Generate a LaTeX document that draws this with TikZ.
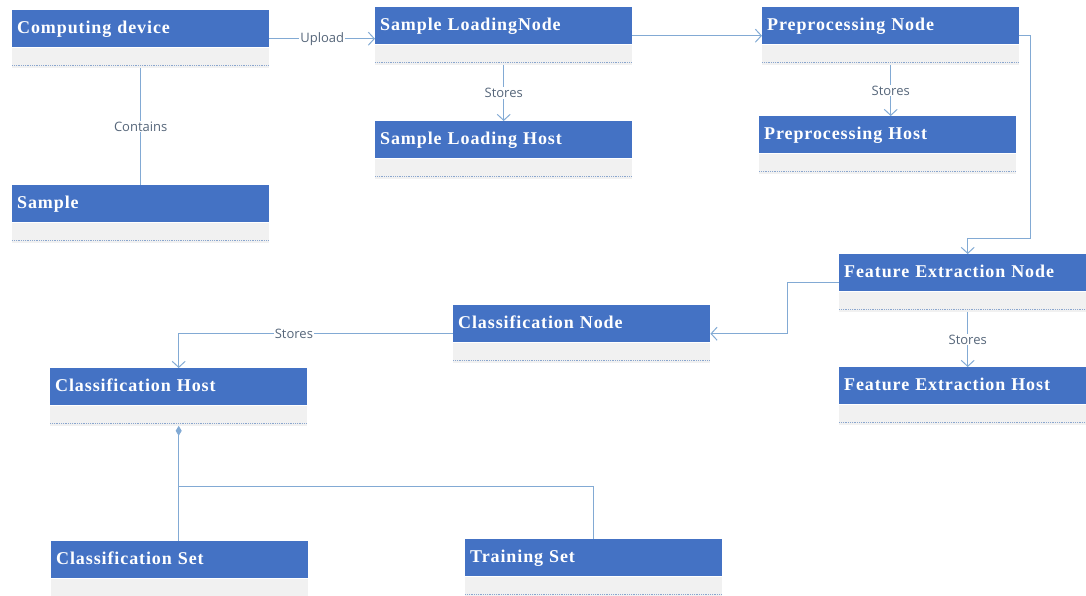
\documentclass[tikz,border=0pt]{standalone}
\usepackage{fontspec}
\setmainfont{Liberation Serif}
\newfontfamily\hdrfont[LetterSpace=5]{Liberation Serif}
\newfontfamily\tagfont{Open Sans}
\usetikzlibrary{positioning,arrows.meta}

\definecolor{hdrblue}{HTML}{4472C4}
\definecolor{bodygray}{HTML}{F1F1F1}
\definecolor{linkblue}{HTML}{82AAD4}
\definecolor{dotblue}{HTML}{8AA6CE}
\definecolor{tagtext}{HTML}{56667A}

\tikzset{
  head/.style={fill=hdrblue, text=white, anchor=north west,
               minimum width=257pt, minimum height=37pt, inner xsep=5pt,
               text width=247pt, align=left, text height=12pt, text depth=2pt,
               font=\hdrfont\fontsize{18}{20}\selectfont\bfseries},
  body/.style={fill=bodygray, minimum width=257pt, minimum height=20pt,
               inner sep=0pt,
               path picture={\draw[dotblue, densely dotted, line width=0.8pt]
                 ([yshift=2pt]path picture bounding box.south west) --
                 ([yshift=2pt]path picture bounding box.south east);}},
  link/.style={draw=linkblue, line width=1pt},
  tip/.style={-{Straight Barb[length=6pt,width=13pt]}},
  tag/.style={fill=white, text=tagtext, inner sep=1pt,
              font=\tagfont\fontsize{13}{15}\selectfont},
}

\begin{document}
\begin{tikzpicture}[x=1pt, y=-1pt]
  \useasboundingbox (0,0) rectangle (1086,596);

  % class boxes
  \node[head] (cd) at (12,10) {Computing device};
  \node[body] (cd-b) [below=0pt of cd] {};
  \node[head] (smp) at (12,185) {Sample};
  \node[body] (smp-b) [below=0pt of smp] {};

  \node[head] (sln) at (375,7) {Sample LoadingNode};
  \node[body] (sln-b) [below=0pt of sln] {};
  \node[head] (slh) at (375,121) {Sample Loading Host};
  \node[body] (slh-b) [below=0pt of slh] {};

  \node[head] (pn) at (762,7) {Preprocessing Node};
  \node[body] (pn-b) [below=0pt of pn] {};
  \node[head] (ph) at (759,116) {Preprocessing Host};
  \node[body] (ph-b) [below=0pt of ph] {};

  \node[head] (fen) at (839,254) {Feature Extraction Node};
  \node[body] (fen-b) [below=0pt of fen] {};
  \node[head] (feh) at (839,367) {Feature Extraction Host};
  \node[body] (feh-b) [below=0pt of feh] {};

  \node[head] (cn) at (453,305) {Classification Node};
  \node[body] (cn-b) [below=0pt of cn] {};
  \node[head] (ch) at (50,368) {Classification Host};
  \node[body] (ch-b) [below=0pt of ch] {};

  \node[head] (cs) at (51,541) {Classification Set};
  \node[body] (cs-b) [below=0pt of cs] {};
  \node[head] (ts) at (465,539) {Training Set};
  \node[body] (ts-b) [below=0pt of ts] {};

  % connectors
  \draw[link,tip] ([yshift=-10pt]cd.east) -- ([yshift=-10pt]cd.east -| sln.west)
        node[tag, midway] {Upload};
  \draw[link] (cd-b.south) -- (cd-b.south |- smp.north)
        node[tag, midway] {Contains};
  \draw[link,tip] ([yshift=-10pt]sln.east) -- ([yshift=-10pt]pn.west);
  \draw[link,tip] (sln-b.south) -- (sln-b.south |- slh.north)
        node[tag, midway] {Stores};
  \draw[link,tip] (pn-b.south) -- (pn-b.south |- ph.north)
        node[tag, midway] {Stores};
  \draw[link,tip] ([yshift=-10pt]pn.east) -- ++(11,0)
        |- ([yshift=16pt]fen.north) -- (fen.north);
  \draw[link,tip] (fen-b.south) -- (fen-b.south |- feh.north)
        node[tag, midway] {Stores};
  \draw[link,tip] ([yshift=-10pt]fen.west) -- ++(-52,0)
        |- ([yshift=-10pt]cn.east);
  \draw[link,tip] ([yshift=-10pt]cn.west) -| (ch.north)
        node[tag, pos=0.29] {Stores};
  \draw[link, {Diamond[length=10pt,width=6pt]}-] (ch-b.south)
        -- (ch-b.south |- cs.north);
  \coordinate (jn) at (ch-b.south |- 0,486);
  \draw[link] (jn) -| (ts.north);
\end{tikzpicture}
\end{document}
